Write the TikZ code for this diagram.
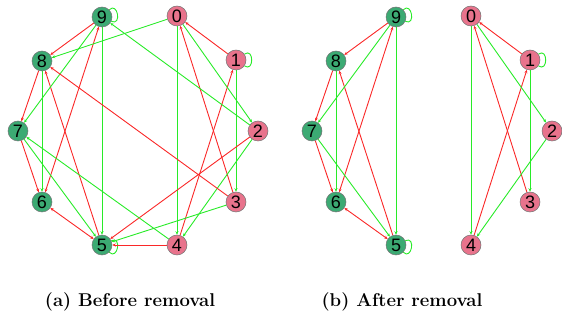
\documentclass[tikz,border=0pt]{standalone}
\usepackage{fontspec}
\newfontfamily\numfont{Liberation Sans}
\usetikzlibrary{arrows.meta,backgrounds}
\definecolor{gnode}{RGB}{60,170,115}
\definecolor{pnode}{RGB}{232,115,140}
\definecolor{redge}{RGB}{250,40,40}
\definecolor{gedge}{RGB}{40,235,40}
\tikzset{
  vtx/.style={circle,inner sep=0pt,minimum size=20pt,draw=black!55,line width=0.5pt,font=\numfont\fontsize{18}{18}\selectfont},
  gv/.style={vtx,fill=gnode},
  pv/.style={vtx,fill=pnode},
  re/.style={draw=redge,line width=0.9pt,-{Stealth[length=3.5pt,width=3pt]}},
  ge/.style={draw=gedge,line width=0.9pt,-{Stealth[length=3.5pt,width=3pt]}},
  rb/.style={draw=redge,line width=0.9pt,{Stealth[length=3.5pt,width=3pt]}-{Stealth[length=3.5pt,width=3pt]}},
  lp/.style={draw=gedge,line width=0.9pt,looseness=2.6},
  captxt/.style={font=\bfseries\fontsize{18.5}{19}\selectfont}
}
\begin{document}
\begin{tikzpicture}[x=1pt,y=-1pt]
\useasboundingbox (0,0) rectangle (562,320);
% left graph
\node[pv] (a0) at (177,16) {0};
\node[pv] (a1) at (236,60) {1};
\node[pv] (a2) at (258,131) {2};
\node[pv] (a3) at (236,202) {3};
\node[pv] (a4) at (177,245) {4};
\node[gv] (a5) at (102,245) {5};
\node[gv] (a6) at (42,202) {6};
\node[gv] (a7) at (18,131) {7};
\node[gv] (a8) at (42,61) {8};
\node[gv] (a9) at (102,17) {9};
% right graph
\node[pv] (b0) at (471,16) {0};
\node[pv] (b1) at (530,60) {1};
\node[pv] (b2) at (552,131) {2};
\node[pv] (b3) at (530,202) {3};
\node[pv] (b4) at (471,245) {4};
\node[gv] (b5) at (396,245) {5};
\node[gv] (b6) at (336,202) {6};
\node[gv] (b7) at (312,131) {7};
\node[gv] (b8) at (336,61) {8};
\node[gv] (b9) at (396,17) {9};
\begin{scope}[on background layer]
\foreach \g in {a,b}{
  \draw[re] (\g1) -- (\g0);
  \draw[re] (\g9) -- (\g8);
  \draw[re] (\g8) -- (\g7);
  \draw[re] (\g7) -- (\g6);
  \draw[rb] (\g6) -- (\g5);
  \draw[re] (\g5) -- (\g8);
  \draw[rb] (\g9) -- (\g6);
  \draw[re] (\g3) -- (\g0);
  \draw[re] (\g4) -- (\g1);
  \draw[ge] (\g9) -- (\g7);
  \draw[ge] (\g0) -- (\g2);
  \draw[ge] (\g0) -- (\g4);
  \draw[ge] (\g1) -- (\g3);
  \draw[ge] (\g2) -- (\g4);
  \draw[ge] (\g7) -- (\g5);
  \draw[ge] (\g8) -- (\g6);
  \draw[ge] (\g9) -- (\g5);
  \draw[lp] (\g9) to[out=45,in=-25] (\g9);
  \draw[lp] (\g1) to[out=35,in=-35] (\g1);
  \draw[lp] (\g5) to[out=25,in=-45] (\g5);
}
\draw[re] (a3) -- (a8);
\draw[re] (a2) -- (a5);
\draw[re] (a4) -- (a5);
\draw[ge] (a0) -- (a8);
\draw[ge] (a2) -- (a9);
\draw[ge] (a3) -- (a5);
\draw[ge] (a4) -- (a7);
\end{scope}
\node[captxt] (c1) at (130,302) {(a) Before removal};
\node[captxt] (c2) at (402,302) {(b) After removal};
\end{tikzpicture}
\end{document}
